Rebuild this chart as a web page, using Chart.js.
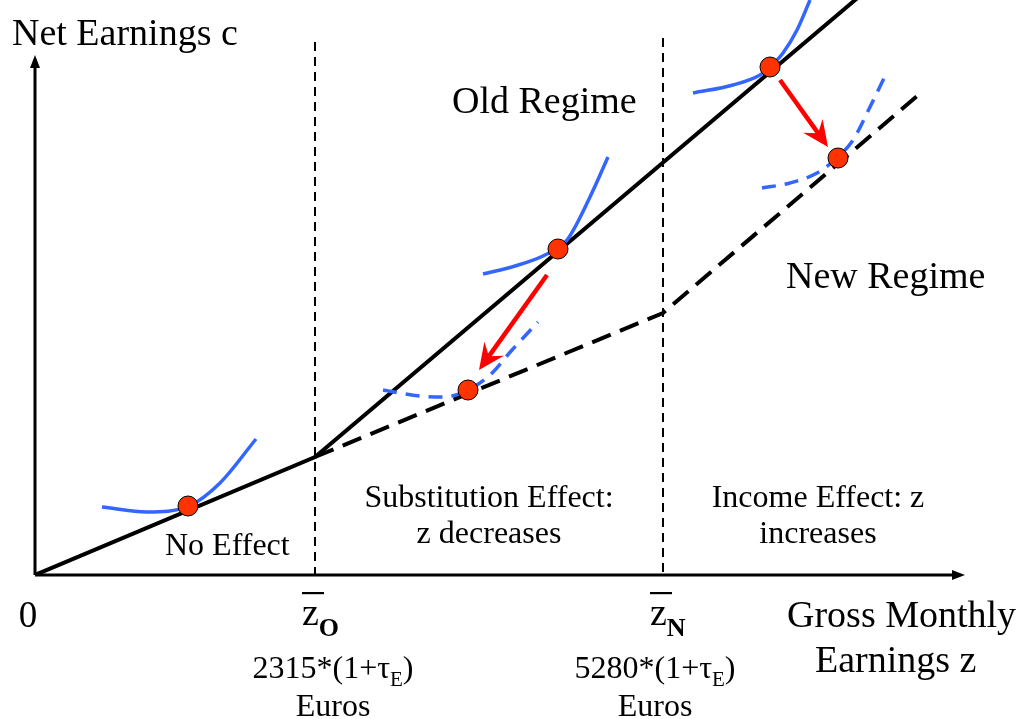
<!DOCTYPE html>
<html>
<head>
<meta charset="utf-8">
<script src="https://cdn.jsdelivr.net/npm/chart.js@4.4.1/dist/chart.umd.min.js"></script>
<style>
html,body{margin:0;padding:0;background:#fff;}
#wrap{width:1023px;height:719px;position:relative;}
</style>
</head>
<body>
<div id="wrap"><canvas id="c"></canvas></div>
<script>
// ---- Diagram data (abstract units: gross earnings z on x, net earnings c on y) ----
const oldRegimeZ = [0, 280, 826];
const oldRegimeC = [0, 118, 580];
const newRegimeZ = [280, 628, 888];
const newRegimeC = [118, 262, 484];
const thresholdZ = [280, 628];          // z_O, z_N
const thresholdTop = [533, 537];
const thresholdNames = ['O', 'N'];
const thresholdAmounts = ['2315', '5280'];
const optimaZ = [153, 523, 735, 433, 803];
const optimaC = [69, 326, 508, 185, 417];
// indifference curves, old regime (solid)
const ic1Z = [67, 112, 154, 185, 221];
const ic1C = [68, 63, 69, 92, 136];
const ic2Z = [448, 480, 510, 532, 555, 573];
const ic2C = [301, 309, 320, 335, 378, 418];
const ic3Z = [658, 698, 725, 735, 748, 762, 775];
const ic3C = [482, 490, 500, 508, 522, 545, 575];
// indifference curves, new regime (dashed)
const ic4Z = [348, 385, 410, 433, 455, 477, 503];
const ic4C = [185, 179, 178, 185, 200, 225, 253];
const ic5Z = [727, 755, 782, 803, 818, 835, 852];
const ic5C = [387, 392, 402, 418, 435, 468, 503];
// responses (arrows): from old optimum to new optimum
const arrowFromZ = [512, 745];
const arrowFromC = [300, 495];
const arrowToZ = [444, 793];
const arrowToC = [205, 428];

const pts = (xs, ys) => xs.map((x, i) => ({x, y: ys[i]}));

const BLUE = '#3366FF';
const SERIF = '"Liberation Serif", "Times New Roman", serif';

const datasets = [
  {label:'optima', data: pts(optimaZ, optimaC), showLine:false, pointRadius:10, pointHoverRadius:10,
   pointBackgroundColor:'#FF3300', pointBorderColor:'#000', pointBorderWidth:1, order:0},
  {label:'ic1', data: pts(ic1Z, ic1C), borderColor:BLUE, borderWidth:3.5, cubicInterpolationMode:'monotone', order:1},
  {label:'ic2', data: pts(ic2Z, ic2C), borderColor:BLUE, borderWidth:3.5, cubicInterpolationMode:'monotone', order:1},
  {label:'ic3', data: pts(ic3Z, ic3C), borderColor:BLUE, borderWidth:3.5, cubicInterpolationMode:'monotone', order:1},
  {label:'ic4', data: pts(ic4Z, ic4C), borderColor:BLUE, borderWidth:3.5, borderDash:[14,9], cubicInterpolationMode:'monotone', order:1},
  {label:'ic5', data: pts(ic5Z, ic5C), borderColor:BLUE, borderWidth:3.5, borderDash:[14,9], cubicInterpolationMode:'monotone', order:1},
  {label:'Old Regime', data: pts(oldRegimeZ, oldRegimeC), borderColor:'#000', borderWidth:4, order:2},
  {label:'New Regime', data: pts(newRegimeZ, newRegimeC), borderColor:'#000', borderWidth:4, borderDash:[20,10], order:2},
];
thresholdZ.forEach((z, i) => {
  // drawn top-down so the dash pattern starts at the top
  datasets.push({label:'z_' + thresholdNames[i], data:[{x:z, y:thresholdTop[i]}, {x:z, y:0}],
    borderColor:'#000', borderWidth:2, borderDash:[9,6], order:3});
});
datasets.forEach(d => { if (d.showLine === undefined) { d.showLine = true; d.pointRadius = 0; d.pointHoverRadius = 0; } d.fill = false; });

function arrowHead(ctx, x1, y1, x2, y2, len, half, notch) {
  const a = Math.atan2(y2 - y1, x2 - x1);
  const cos = Math.cos(a), sin = Math.sin(a);
  const bx = x2 - len * cos, by = y2 - len * sin;
  ctx.beginPath();
  ctx.moveTo(x2, y2);
  ctx.lineTo(bx - half * sin, by + half * cos);
  ctx.lineTo(x2 - (len - notch) * cos, y2 - (len - notch) * sin);
  ctx.lineTo(bx + half * sin, by - half * cos);
  ctx.closePath();
  ctx.fill();
}

const decor = {
  id: 'decor',
  beforeDatasetsDraw(chart) {
    const ctx = chart.ctx, xs = chart.scales.x, ys = chart.scales.y;
    const X = v => xs.getPixelForValue(v), Y = v => ys.getPixelForValue(v);
    ctx.save();
    ctx.strokeStyle = '#000'; ctx.fillStyle = '#000'; ctx.lineWidth = 3;
    // x axis
    ctx.beginPath(); ctx.moveTo(X(0), Y(0)); ctx.lineTo(X(920), Y(0)); ctx.stroke();
    arrowHead(ctx, X(0), Y(0), X(930), Y(0), 13, 5, 0);
    // y axis
    ctx.beginPath(); ctx.moveTo(X(0), Y(0)); ctx.lineTo(X(0), Y(510)); ctx.stroke();
    arrowHead(ctx, X(0), Y(0), X(0), Y(520), 13, 5, 0);
    ctx.restore();
  },
  afterDatasetsDraw(chart) {
    const ctx = chart.ctx, xs = chart.scales.x, ys = chart.scales.y;
    const X = v => xs.getPixelForValue(v), Y = v => ys.getPixelForValue(v);
    ctx.save();
    // red arrows
    ctx.strokeStyle = '#FF0000'; ctx.fillStyle = '#FF0000'; ctx.lineWidth = 4.5; ctx.lineCap = 'butt';
    arrowFromZ.forEach((z, i) => {
      const x1 = X(z), y1 = Y(arrowFromC[i]), x2 = X(arrowToZ[i]), y2 = Y(arrowToC[i]);
      const a = Math.atan2(y2 - y1, x2 - x1);
      ctx.beginPath(); ctx.moveTo(x1, y1); ctx.lineTo(x2 - 14 * Math.cos(a), y2 - 14 * Math.sin(a)); ctx.stroke();
      arrowHead(ctx, x1, y1, x2, y2, 26, 12, 9);
    });
    // texts
    ctx.fillStyle = '#000'; ctx.textBaseline = 'alphabetic';
    const T = (s, x, y, size, align, bold) => {
      ctx.font = (bold ? 'bold ' : '') + size + 'px ' + SERIF;
      ctx.textAlign = align || 'left';
      ctx.fillText(s, X(x), Y(y));
    };
    T('Net Earnings c', -23, 530, 38);
    T('Old Regime', 417, 462, 38);
    T('New Regime', 751, 287, 38);
    T('No Effect', 130, 20, 32);
    T('Substitution Effect:', 454, 68, 32, 'center');
    T('z decreases', 454, 32, 32, 'center');
    T('Income Effect: z', 783, 68, 32, 'center');
    T('increases', 783, 32, 32, 'center');
    T('0', -7, -52, 37, 'center');
    T('Gross Monthly', 752, -52, 38);
    T('Earnings z', 780, -97, 38);
    const formulaCenter = [18, -8];
    thresholdZ.forEach((z, i) => {
      const px = X(z);
      ctx.textAlign = 'left';
      ctx.font = '38px ' + SERIF;
      const zx = px - 13;
      ctx.fillText('z', zx, Y(-50));
      const zw = ctx.measureText('z').width;
      ctx.font = 'bold 26px ' + SERIF;
      ctx.fillText(thresholdNames[i], zx + zw, Y(-61));
      ctx.fillRect(zx, Y(-18) - 1, 22, 2.2);
      const main = thresholdAmounts[i] + '*(1+\u03C4';
      ctx.font = '32px ' + SERIF; const w1 = ctx.measureText(main).width;
      ctx.font = '21px ' + SERIF; const w2 = ctx.measureText('E').width;
      ctx.font = '32px ' + SERIF; const w3 = ctx.measureText(')').width;
      const cx = X(z + formulaCenter[i]);
      const sx = cx - (w1 + w2 + w3) / 2;
      const by = Y(-103);
      ctx.font = '32px ' + SERIF; ctx.fillText(main, sx, by);
      ctx.font = '21px ' + SERIF; ctx.fillText('E', sx + w1, by + 8);
      ctx.font = '32px ' + SERIF; ctx.fillText(')', sx + w1 + w2, by);
      ctx.textAlign = 'center';
      ctx.fillText('Euros', cx, Y(-141));
    });
    ctx.restore();
  }
};

new Chart(document.getElementById('c'), {
  type: 'scatter',
  data: { datasets },
  options: {
    responsive: true, maintainAspectRatio: false, animation: false,
    layout: { autoPadding: false, padding: { left: 35, right: 58, top: 0, bottom: 144 } },
    scales: {
      x: { type: 'linear', min: 0, max: 930, display: false },
      y: { type: 'linear', min: 0, max: 575, display: false }
    },
    plugins: { legend: { display: false }, tooltip: { enabled: false } },
    elements: { line: { borderCapStyle: 'butt' } }
  },
  plugins: [decor]
});
</script>
</body>
</html>
